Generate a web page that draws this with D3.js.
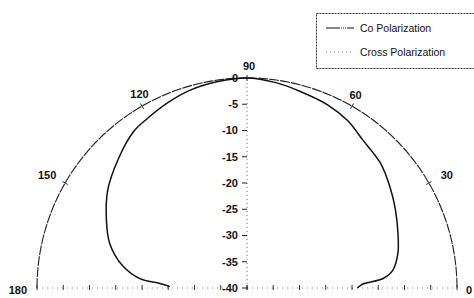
<!DOCTYPE html>
<html>
<head>
<meta charset="utf-8">
<script src="https://cdn.jsdelivr.net/npm/d3@7"></script>
<style>
  body { margin: 0; background: #fff; }
  svg { display: block; font-family: "Liberation Sans", Arial, sans-serif; }
</style>
</head>
<body>
<div id="polarPlot"></div>
<script>
// angle (deg) of each sample, co-pol and cross-pol levels (dB)
var angles   = [0, 2, 4, 7, 13, 20, 28, 35, 43, 52, 59, 66, 75, 82, 90, 98, 106, 113, 120, 126, 135, 145, 154, 162, 170, 175, 177, 179];
var coPol    = [-19, -17.9, -14, -12, -10.5, -9.4, -8, -6.7, -5.2, -4.2, -2.8, -1.9, -1.2, -0.5, 0, -0.3, -0.8, -1.6, -2.5, -3.2, -5.3, -7.6, -10.2, -12.5, -16, -19.5, -23.4, -25.3];
var crossPol = [-40, -40, -40, -40, -40, -40, -40, -40, -40, -40, -40, -40, -40, -40, -40, -40, -40, -40, -40, -40, -40, -40, -40, -40, -40, -40, -40, -40];

var angleTicks = [0, 30, 60, 90, 120, 150, 180];
var dbTicks = [0, -5, -10, -15, -20, -25, -30, -35, -40];
var legendLabels = ["Co  Polarization", "Cross Polarization"];

var width = 474, height = 298;
var cx = 247, cy = 288, R = 210;

var svg = d3.select("#polarPlot").append("svg")
    .attr("width", width)
    .attr("height", height);

var g = svg.append("g").attr("transform", "translate(" + cx + "," + cy + ")");

// radius scale: -40 dB at centre, 0 dB on the rim
var r = d3.scaleLinear().domain([-40, 0]).range([0, R]);
var toRad = function(deg) { return (90 - deg) * Math.PI / 180; };

// outer rim (half circle)
var rim = d3.arc()
  .innerRadius(R).outerRadius(R)
  .startAngle(-Math.PI / 2).endAngle(Math.PI / 2);
g.append("path")
  .attr("d", rim())
  .attr("fill", "none")
  .attr("stroke", "#222")
  .attr("stroke-width", 1.1)
  .attr("stroke-dasharray", "9,2");

// angular ticks + labels
angleTicks.forEach(function(a) {
  var t = toRad(a);
  var sx = Math.sin(t), sy = -Math.cos(t);
  if (a > 0 && a < 180) {
    g.append("line")
      .attr("x1", sx * (R - 3)).attr("y1", sy * (R - 3))
      .attr("x2", sx * (R + 3)).attr("y2", sy * (R + 3))
      .attr("stroke", "#222");
  }
  var lr = R + 15, anchor = "middle", dx = 0, dy = 0;
  if (a === 0) { lr = R + 9; anchor = "start"; dy = 2; }
  else if (a === 180) { lr = R + 10; anchor = "end"; dy = 2; }
  else if (a === 90) { lr = R + 12; dx = 2; }
  else if (a === 30) { dx = 5; }
  else if (a === 150) { dx = -5; }
  else if (a === 60) { dx = -4; dy = 2; }
  else if (a === 120) { dx = 5; dy = 1; }
  g.append("text")
    .attr("x", sx * lr + dx)
    .attr("y", sy * lr + dy)
    .attr("dy", "0.35em")
    .attr("text-anchor", anchor)
    .attr("font-size", 11)
    .attr("font-weight", "bold")
    .attr("fill", "#111")
    .text(a);
});

// vertical radial axis (dotted) with dB labels
g.append("line")
  .attr("x1", 0).attr("y1", 0).attr("x2", 0).attr("y2", -R)
  .attr("stroke", "#777").attr("stroke-dasharray", "1,3");
dbTicks.forEach(function(d) {
  g.append("line")
    .attr("x1", -5).attr("x2", 0)
    .attr("y1", -r(d)).attr("y2", -r(d))
    .attr("stroke", "#222");
  g.append("text")
    .attr("x", -9)
    .attr("y", -r(d))
    .attr("dy", "0.35em")
    .attr("text-anchor", "end")
    .attr("font-size", 11)
    .attr("font-weight", "bold")
    .attr("fill", "#111")
    .text(d === 0 ? "0" : "-" + Math.abs(d));
});

// horizontal axis (dotted) with ticks on both sides
g.append("line")
  .attr("x1", -R).attr("x2", R).attr("y1", 0).attr("y2", 0)
  .attr("stroke", "#888").attr("stroke-dasharray", "1,4");
dbTicks.forEach(function(d) {
  [-1, 1].forEach(function(s) {
    g.append("line")
      .attr("x1", s * r(d)).attr("x2", s * r(d))
      .attr("y1", -3).attr("y2", 2)
      .attr("stroke", "#333");
  });
});

// pattern curves
var radial = d3.lineRadial()
  .angle(function(d) { return toRad(d[0]); })
  .radius(function(d) { return r(d[1]); })
  .curve(d3.curveCatmullRom);

g.append("path")
  .datum(angles.map(function(a, i) { return [a, crossPol[i]]; }))
  .attr("d", radial)
  .attr("fill", "none")
  .attr("stroke", "#777")
  .attr("stroke-dasharray", "1,3");

g.append("path")
  .datum(angles.map(function(a, i) { return [a, coPol[i]]; }))
  .attr("d", radial)
  .attr("fill", "none")
  .attr("stroke", "#111")
  .attr("stroke-width", 1.5);

// legend
var lg = svg.append("g");
lg.append("rect")
  .attr("x", 316.5).attr("y", 13.5)
  .attr("width", 170).attr("height", 55)
  .attr("fill", "#fff")
  .attr("stroke", "#333")
  .attr("stroke-dasharray", "2,1");
legendLabels.forEach(function(lab, i) {
  var y = 28 + i * 24;
  lg.append("line")
    .attr("x1", 326).attr("x2", 354).attr("y1", y).attr("y2", y)
    .attr("stroke", i === 0 ? "#111" : "#777")
    .attr("stroke-width", i === 0 ? 1.2 : 1)
    .attr("stroke-dasharray", i === 0 ? "14,1,1,1,1,1,1,1" : "1,3");
  lg.append("text")
    .attr("x", 360).attr("y", y)
    .attr("dy", "0.35em")
    .attr("font-size", 10.5)
    .attr("fill", "#111")
    .text(lab);
});
</script>
</body>
</html>
